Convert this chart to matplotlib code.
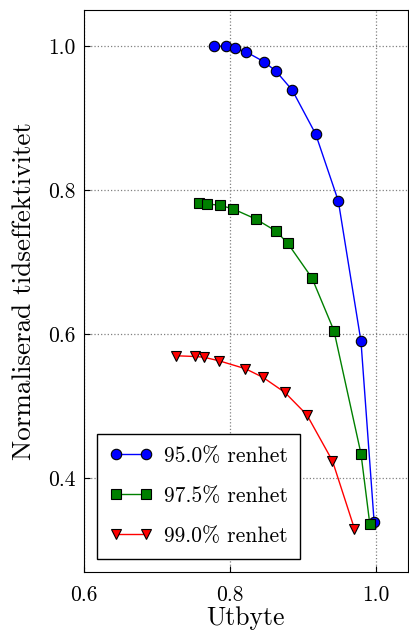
import numpy as np
from matplotlib import pyplot as plt

plt.rcParams['font.family'] = ['cmr10', 'DejaVu Serif']
plt.rcParams['axes.formatter.use_mathtext'] = True
plt.rcParams['mathtext.fontset'] = 'cm'

# utbyte / normaliserad tidseffektivitet per renhet
x95 = [0.778, 0.794, 0.807, 0.822, 0.847, 0.863, 0.885, 0.917, 0.948, 0.979, 0.997]
y95 = [1.000, 1.000, 0.997, 0.992, 0.978, 0.965, 0.939, 0.878, 0.785, 0.590, 0.339]

x975 = [0.758, 0.768, 0.786, 0.804, 0.835, 0.863, 0.879, 0.912, 0.942, 0.979, 0.991]
y975 = [0.782, 0.781, 0.779, 0.774, 0.760, 0.743, 0.726, 0.678, 0.605, 0.434, 0.337]

x99 = [0.726, 0.752, 0.764, 0.785, 0.821, 0.845, 0.875, 0.905, 0.940, 0.970]
y99 = [0.570, 0.569, 0.568, 0.563, 0.552, 0.540, 0.519, 0.488, 0.424, 0.330]

labels = ['95.0% renhet', '97.5% renhet', '99.0% renhet']

fig = plt.figure(figsize=(4.09, 6.36), dpi=100)
ax = fig.add_axes([0.205, 0.101, 0.792, 0.883])

ax.plot(x95, y95, '-o', color='blue', mfc='blue', mec='black', mew=0.8, ms=7.5, lw=1, label=labels[0])
ax.plot(x975, y975, '-s', color='green', mfc='green', mec='black', mew=0.8, ms=6.5, lw=1, label=labels[1])
ax.plot(x99, y99, '-v', color='red', mfc='red', mec='black', mew=0.8, ms=7.5, lw=1, label=labels[2])

ax.set_xlim(0.6, 1.043)
ax.set_ylim(0.27, 1.05)
ax.set_xticks([0.6, 0.8, 1.0])
ax.set_yticks([0.4, 0.6, 0.8, 1.0])
ax.set_xticklabels(['0.6', '0.8', '1.0'])
ax.set_yticklabels(['0.4', '0.6', '0.8', '1.0'])
ax.tick_params(direction='in', labelsize=15.5, length=4)
ax.tick_params(axis='x', pad=10)
ax.tick_params(axis='y', pad=6)
ax.grid(True, ls=':', color='gray', lw=0.9)

ax.set_xlabel('Utbyte', fontsize=18.5, labelpad=1)
ax.set_ylabel('Normaliserad tidseffektivitet', fontsize=19.5, labelpad=9)

leg = ax.legend(loc='lower left', bbox_to_anchor=(0.04, 0.023), borderaxespad=0,
                fontsize=15.5, numpoints=2,
                fancybox=False, edgecolor='black', framealpha=1,
                handlelength=2.0, handletextpad=0.5, labelspacing=0.95, borderpad=0.6)
leg.get_frame().set_linewidth(1.0)

fig.savefig('out.png', dpi=100)
